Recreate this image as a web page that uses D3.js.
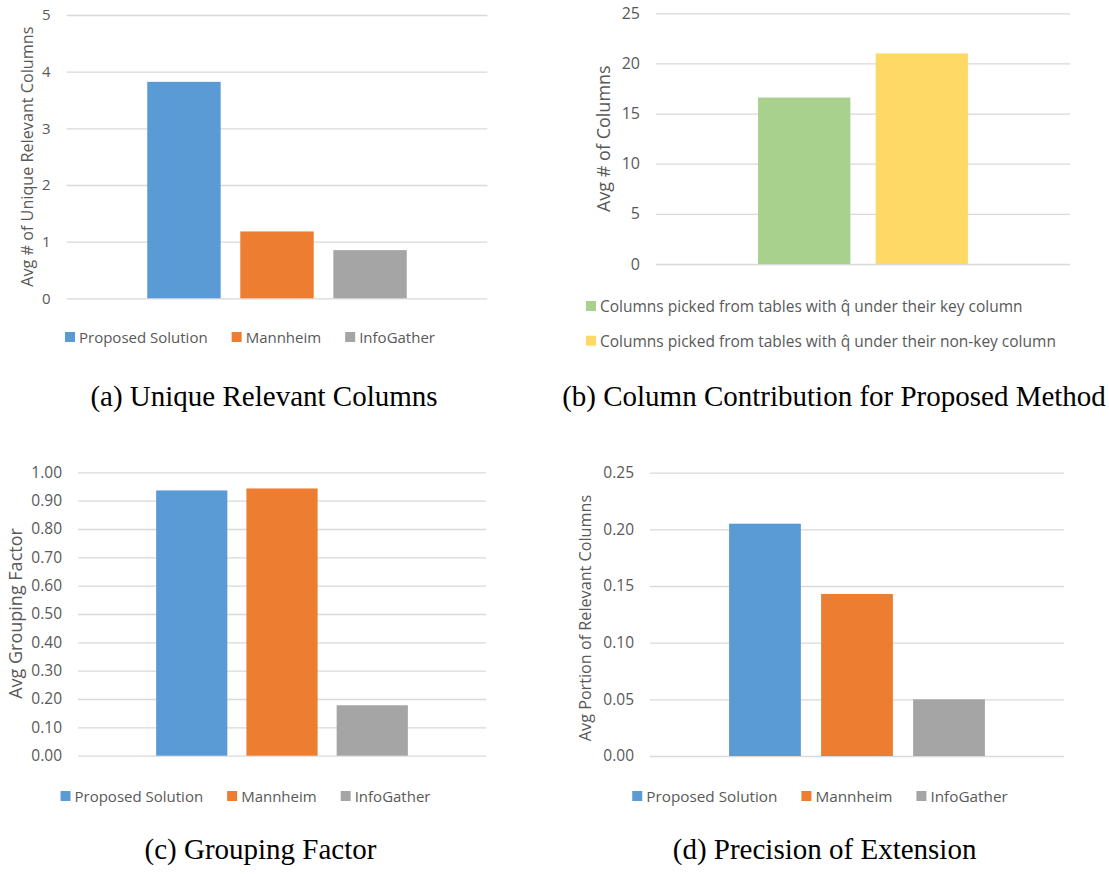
<!DOCTYPE html>
<html>
<head>
<meta charset="utf-8">
<script src="https://cdn.jsdelivr.net/npm/d3@7"></script>
<style>
  body { margin: 0; background: #fff; }
  svg { display: block; }
</style>
</head>
<body>
<script>
// data
const methodNames = ['Proposed Solution', 'Mannheim', 'InfoGather']
const methodColors = ['#5b9bd5', '#ed7d31', '#a5a5a5']

const uniqueRelevant = [3.82, 1.18, 0.85]
const uniqueTicks = [0, 1, 2, 3, 4, 5]

const contribNames = [
  'Columns picked from tables with q\u0302 under their key column',
  'Columns picked from tables with q\u0302 under their non-key column'
]
const contribColors = ['#a9d18e', '#ffd966']
const contribValues = [16.6, 21.0]
const contribTicks = [0, 5, 10, 15, 20, 25]

const groupingFactor = [0.936, 0.943, 0.178]
const groupingTicks = [0, 0.1, 0.2, 0.3, 0.4, 0.5, 0.6, 0.7, 0.8, 0.9, 1.0]

const precisionExt = [0.205, 0.143, 0.05]
const precisionTicks = [0, 0.05, 0.1, 0.15, 0.2, 0.25]

const captions = [
  '(a) Unique Relevant Columns',
  '(b) Column Contribution for Proposed Method',
  '(c) Grouping Factor',
  '(d) Precision of Extension'
]

const font = '"Open Sans", "Noto Sans", sans-serif'
const textGray = '#595959'
const gridGray = '#d9d9d9'

const svg = d3.select('body').append('svg').attr('width', 1109).attr('height', 874)

const drawPanel = (o) => {
  const g = svg.append('g')

  const y = d3.scaleLinear().domain([0, o.ticks[o.ticks.length - 1]]).range([o.y1, o.y0])

  const yAxis = d3.axisLeft(y)
    .tickValues(o.ticks)
    .tickFormat(o.fmt)
    .tickSize(-(o.x1 - o.x0))
    .tickPadding(16)

  const axisG = g.append('g')
    .attr('transform', `translate(${o.x0}, 0)`)
    .call(yAxis)
  axisG.select('.domain').remove()
  axisG.selectAll('line').attr('stroke', gridGray).attr('stroke-width', 1.3)
  axisG.selectAll('text')
    .attr('fill', textGray)
    .style('font-family', font)
    .style('font-size', o.tickSize + 'px')

  // one category, several series side by side
  const po = (1 / o.groupFrac - 1) / 2
  const xOuter = d3.scaleBand().domain(['all']).range([o.x0, o.x1]).paddingInner(0).paddingOuter(po)
  const xInner = d3.scaleBand().domain(o.names).range([0, xOuter.bandwidth()]).paddingInner(o.barPad)

  g.selectAll('rect.bar')
    .data(o.values)
    .enter()
    .append('rect')
    .attr('class', 'bar')
    .attr('x', (d, i) => xOuter('all') + xInner(o.names[i]))
    .attr('width', xInner.bandwidth())
    .attr('y', (d) => y(d))
    .attr('height', (d) => y(0) - y(d))
    .attr('fill', (d, i) => o.colors[i])

  // y title
  g.append('text')
    .attr('transform', `translate(${o.titleX}, ${o.titleY}) rotate(-90)`)
    .attr('text-anchor', 'middle')
    .attr('dominant-baseline', 'central')
    .attr('fill', textGray)
    .style('font-family', font)
    .style('font-size', o.titleSize + 'px')
    .text(o.yTitle)

  // legend
  if (o.legendRows) {
    o.names.forEach((name, i) => {
      const ly = o.legendY + i * o.legendRowGap
      g.append('rect')
        .attr('x', o.legendX).attr('y', ly - 5)
        .attr('width', 10).attr('height', 10)
        .attr('fill', o.colors[i])
      g.append('text')
        .attr('x', o.legendX + 14).attr('y', ly)
        .attr('dominant-baseline', 'central')
        .attr('fill', textGray)
        .style('font-family', font)
        .style('font-size', o.legendSize + 'px')
        .text(name)
    })
  } else {
    const lg = g.append('g')
    let cursor = 0
    o.names.forEach((name, i) => {
      lg.append('rect')
        .attr('x', cursor).attr('y', o.legendY - 5)
        .attr('width', 10).attr('height', 10)
        .attr('fill', o.colors[i])
      const t = lg.append('text')
        .attr('x', cursor + 14).attr('y', o.legendY)
        .attr('dominant-baseline', 'central')
        .attr('fill', textGray)
        .style('font-family', font)
        .style('font-size', o.legendSize + 'px')
        .text(name)
      cursor += 14 + t.node().getComputedTextLength() + 24
    })
    const total = cursor - 24
    lg.attr('transform', `translate(${o.legendCx - total / 2}, 0)`)
  }

  svg.append('text')
    .attr('x', o.capX).attr('y', o.capY)
    .attr('text-anchor', 'middle')
    .attr('fill', '#000')
    .style('font-family', '"Liberation Serif", "Times New Roman", serif')
    .style('font-size', '29px')
    .text(o.caption)
}

drawPanel({
  names: methodNames, colors: methodColors, values: uniqueRelevant,
  ticks: uniqueTicks, fmt: d3.format('d'),
  x0: 66.7, x1: 487.3, y0: 15, y1: 298.3,
  groupFrac: 0.617, barPad: 0.211,
  tickSize: 15, titleSize: 16.2, legendSize: 15,
  yTitle: 'Avg # of Unique Relevant Columns', titleX: 27, titleY: 156.7,
  legendY: 337, legendCx: 250,
  caption: captions[0], capX: 264, capY: 406
})

drawPanel({
  names: contribNames, colors: contribColors, values: contribValues,
  ticks: contribTicks, fmt: d3.format('d'),
  x0: 656, x1: 1070, y0: 13.3, y1: 264,
  groupFrac: 0.507, barPad: 0.215,
  tickSize: 16, titleSize: 18, legendSize: 15.5,
  yTitle: 'Avg # of Columns', titleX: 603, titleY: 138.7,
  legendRows: true, legendX: 586, legendY: 306, legendRowGap: 34.7,
  caption: captions[1], capX: 834, capY: 406
})

drawPanel({
  names: methodNames, colors: methodColors, values: groupingFactor,
  ticks: groupingTicks, fmt: d3.format('.2f'),
  x0: 78, x1: 486, y0: 472.3, y1: 755.7,
  groupFrac: 0.617, barPad: 0.211,
  tickSize: 15.5, titleSize: 18, legendSize: 15,
  yTitle: 'Avg Grouping Factor', titleX: 15, titleY: 613.5,
  legendY: 796, legendCx: 245.5,
  caption: captions[2], capX: 260.5, capY: 859
})

drawPanel({
  names: methodNames, colors: methodColors, values: precisionExt,
  ticks: precisionTicks, fmt: d3.format('.2f'),
  x0: 650, x1: 1064, y0: 472.7, y1: 756,
  groupFrac: 0.618, barPad: 0.22,
  tickSize: 15.5, titleSize: 16.2, legendSize: 15.3,
  yTitle: 'Avg Portion of Relevant Columns', titleX: 585, titleY: 618,
  legendY: 796, legendCx: 820,
  caption: captions[3], capX: 824.6, capY: 859
})
</script>
</body>
</html>
